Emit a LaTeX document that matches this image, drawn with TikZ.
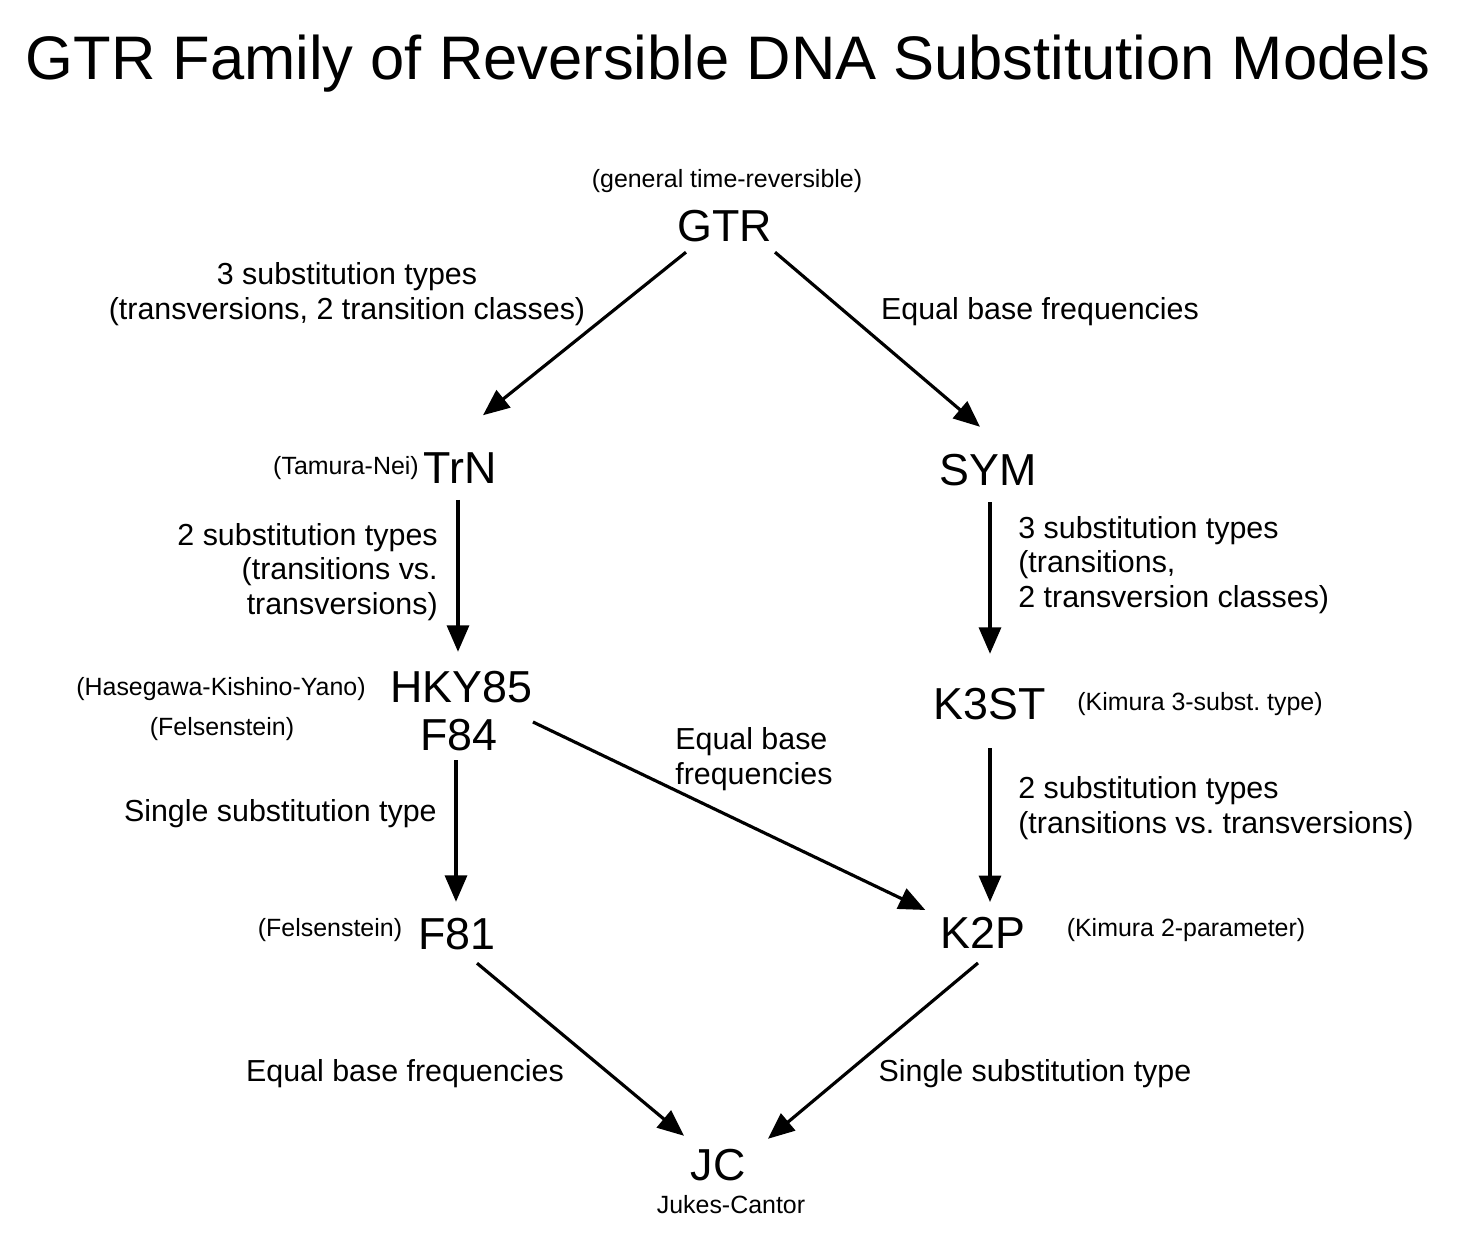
\documentclass[tikz,border=0pt]{standalone}
\usepackage{fontspec}
\setmainfont{Liberation Sans}
\usetikzlibrary{arrows.meta,positioning}
\frenchspacing

\tikzset{
  model/.style={font=\fontsize{25.5}{30}\selectfont, inner sep=0pt},
  note/.style={font=\fontsize{14.2}{17}\selectfont, inner sep=0pt},
  cond/.style={font=\fontsize{17.3}{19.8}\selectfont, inner sep=0pt},
  subarrow/.style={-{Triangle[length=15pt,width=12.5pt]}, line width=1.8pt},
}

\begin{document}
\begin{tikzpicture}[x=0.02cm, y=-0.02cm]
      \useasboundingbox (0,0) rectangle (1458,1260);
      \node[font=\fontsize{35}{40}\selectfont] (title) at (728,64) {GTR Family of Reversible DNA Substitution Models};
      % models
      \node[model] (GTR) at (725,226) {GTR};
      \node[note] (gtrname) at (727,181) {(general time-reversible)};
      \node[model] (TrN) at (460,468) {TrN};
      \node[note] (trnname) at (346,468) {(Tamura-Nei)};
      \node[model] (SYM) at (988,470) {SYM};
      \node[model] (HKY) at (461,687) {HKY85};
      \node[model] (F84) at (459,735) {F84};
      \node[note] (hkyname) at (221,689) {(Hasegawa-Kishino-Yano)};
      \node[note] (f84name) at (222,729) {(Felsenstein)};
      \node[model] (K3ST) at (990,704) {K3ST};
      \node[note] (k3stname) at (1200,704) {(Kimura 3-subst. type)};
      \node[model] (F81) at (457,934) {F81};
      \node[note] (f81name) at (330,930) {(Felsenstein)};
      \node[model] (K2P) at (983,933) {K2P};
      \node[note] (k2pname) at (1186,930) {(Kimura 2-parameter)};
      \node[model] (JC) at (718,1165) {JC};
      \node[note] (jcname) at (731,1205) {Jukes-Cantor};
      % restrictions
      \node[cond, align=center] (l1) at (347,294) {3 substitution types\\(transversions, 2 transition classes)};
      \node[cond] (l2) at (1040,312) {Equal base frequencies};
      \node[cond, align=right, anchor=east] (l3) at (438,572) {2 substitution types\\(transitions vs.\\transversions)};
      \node[cond, align=left, anchor=west] (l4) at (1018,565) {3 substitution types\\(transitions,\\2 transversion classes)};
      \node[cond, align=left, anchor=west] (l5) at (675,759) {Equal base\\frequencies};
      \node[cond, anchor=east] (l6) at (437,814) {Single substitution type};
      \node[cond, align=left, anchor=west] (l7) at (1018,808) {2 substitution types\\(transitions vs. transversions)};
      \node[cond] (l8) at (405,1074) {Equal base frequencies};
      \node[cond] (l9) at (1035,1074) {Single substitution type};
      % arrows
      \draw[subarrow] ([shift={(-39,10)}]GTR.south) -- ([shift={(23,-37)}]TrN.north);
      \draw[subarrow] ([shift={(50,10)}]GTR.south) -- ([shift={(-8,-27)}]SYM.north);
      \draw[subarrow] ([shift={(-2,16)}]TrN.south) -- ([shift={(-3,-19)}]HKY.north);
      \draw[subarrow] ([shift={(2,16)}]SYM.south) -- ([shift={(0,-34)}]K3ST.north);
      \draw[subarrow] ([shift={(-3,9)}]F84.south) -- ([shift={(-1,-16)}]F81.north);
      \draw[subarrow] ([shift={(35,-13)}]F84.east) -- ([shift={(-15,-23)}]K2P.west);
      \draw[subarrow] ([shift={(0,28)}]K3ST.south) -- ([shift={(7,-15)}]K2P.north);
      \draw[subarrow] ([shift={(20,13)}]F81.south) -- ([shift={(-34,-13)}]JC.north);
      \draw[subarrow] ([shift={(-5,14)}]K2P.south) -- ([shift={(50,-10)}]JC.north);
\end{tikzpicture}
\end{document}
